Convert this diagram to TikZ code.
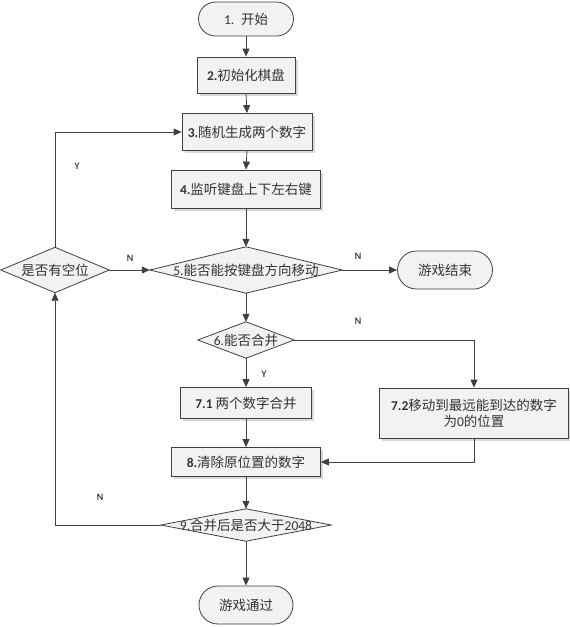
\documentclass[tikz,border=0pt]{standalone}
\usepackage{fontspec}
\setmainfont{Carlito}
\newfontfamily\cjk{Noto Sans CJK SC}
\usetikzlibrary{shadows,arrows.meta}
\newcommand\zh[1]{{\cjk #1}}
\definecolor{ln}{HTML}{404040}
\definecolor{tx}{HTML}{333333}
\definecolor{bf}{HTML}{F2F2F2}
\tikzset{
  txtfont/.style={font=\fontsize{13.5}{16}\selectfont},
  base/.style={draw=ln, line width=0.8pt, fill=bf, text=tx, txtfont, inner sep=2pt},
  procbox/.style={base, rectangle, drop shadow={shadow xshift=2.5pt, shadow yshift=-2.5pt, fill=black!25, opacity=0.6}},
  term/.style={base, rectangle, rounded corners=17pt},
  decbox/.style={rectangle, draw=none, inner sep=0pt},
  dtext/.style={text=tx, txtfont, inner sep=0pt},
  flow/.style={draw=ln, line width=0.8pt, -{Triangle[length=8pt,width=7pt]}},
  lbl/.style={text=black, font=\fontsize{10}{12}\selectfont},
  dia/.style={draw=ln, line width=0.8pt, fill=bf}
}
\newcommand\diamondat[1]{\path[dia] (#1.west)--(#1.north)--(#1.east)--(#1.south)--cycle;}
\begin{document}
\begin{tikzpicture}[x=1pt,y=-1pt]
\useasboundingbox (0,0) rectangle (570,627);
% terminals and boxes
\node[term, minimum width=95pt, minimum height=34pt] (s1) at (246,19) {1.\enspace\zh{开始}};
\node[procbox, minimum width=98pt, minimum height=36pt] (b2) at (246,75) {\textbf{2.}\zh{初始化棋盘}};
\node[procbox, minimum width=130pt, minimum height=37pt] (b3) at (247,132) {\textbf{3.}\zh{随机生成两个数字}};
\node[procbox, minimum width=149pt, minimum height=38pt] (b4) at (246,189) {\textbf{4.}\zh{监听键盘上下左右键}};
% decisions
\node[decbox, minimum width=192pt, minimum height=46pt] (d5) at (246,270) {};
\diamondat{d5}
\node[dtext] (t5) at (d5.center) {5.\zh{能否能按键盘方向移动}};
\node[decbox, minimum width=108pt, minimum height=45pt] (dk) at (55,270) {};
\diamondat{dk}
\node[dtext] (tk) at (dk.center) {\zh{是否有空位}};
\node[term, minimum width=95pt, minimum height=38pt, rounded corners=19pt] (e1) at (445,270) {\zh{游戏结束}};
\node[decbox, minimum width=96pt, minimum height=36pt] (d6) at (246,340) {};
\diamondat{d6}
\node[dtext] (t6) at (d6.center) {6.\zh{能否合并}};
\node[procbox, minimum width=131pt, minimum height=31pt] (b71) at (246,403) {\textbf{7.1} \zh{两个数字合并}};
\node[procbox, minimum width=189pt, minimum height=50pt, align=center] (b72) at (474,413) {\textbf{7.2}\zh{移动到最远能到达的数字}\\\zh{为}0\zh{的位置}};
\node[procbox, minimum width=149pt, minimum height=29pt] (b8) at (246,462) {\textbf{8.}\zh{清除原位置的数字}};
\node[decbox, minimum width=170pt, minimum height=32pt] (d9) at (246,525) {};
\diamondat{d9}
\node[dtext] (t9) at (d9.center) {9.\zh{合并后是否大于}2048};
\node[term, minimum width=94pt, minimum height=38pt, rounded corners=19pt] (e2) at (246,605) {\zh{游戏通过}};
% connectors
\draw[flow] (s1.south) -- (b2.north);
\draw[flow] (b2.south) -- (b3.north);
\draw[flow] (b3.south) -- (b4.north);
\draw[flow] (b4.south) -- (d5.north);
\draw[flow] (d5.east) -- (e1.west);
\draw[flow] (d5.south) -- (d6.north);
\draw[flow] (d6.south) -- (b71.north);
\draw[flow] (d6.east) -| (b72.north);
\draw[flow] (b71.south) -- (b8.north);
\draw[flow] (b72.south) |- (b8.east);
\draw[flow] (b8.south) -- (d9.north);
\draw[flow] (d9.south) -- (e2.north);
\draw[flow] (d9.west) -| (dk.south);
\draw[flow] (dk.north) |- (b3.west);
\draw[flow] (dk.east) -- (d5.west);
% labels
\node[lbl] (n1) at (358,256) {N};
\node[lbl] (n2) at (358,321) {N};
\node[lbl] (y1) at (264,374) {Y};
\node[lbl] (n3) at (100,497) {N};
\node[lbl] (y2) at (77,166) {Y};
\node[lbl] (n4) at (130,258) {N};
\end{tikzpicture}
\end{document}
